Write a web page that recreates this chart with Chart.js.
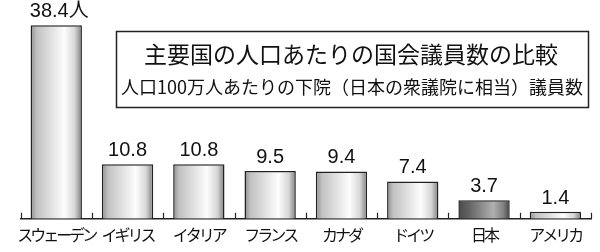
<!DOCTYPE html>
<html>
<head>
<meta charset="utf-8">
<script src="https://cdn.jsdelivr.net/npm/chart.js@4"></script>
<style>
  html, body { margin: 0; padding: 0; background: #fff; }
  #wrap { width: 600px; height: 252px; position: relative; }
</style>
</head>
<body>
<div id="wrap"><canvas id="chart"></canvas></div>
<script>
const COUNTRIES = ['スウェーデン', 'イギリス', 'イタリア', 'フランス', 'カナダ', 'ドイツ', '日本', 'アメリカ'];
const SEATS_PER_MILLION = [38.4, 10.8, 10.8, 9.5, 9.4, 7.4, 3.7, 1.4];
const FIRST_UNIT = '人';
const TITLE_LINES = [
    '主要国の人口あたりの国会議員数の比較',
    '人口100万人あたりの下院（日本の衆議院に相当）議員数',
];
const HIGHLIGHT = '日本';

const CJK = '"Noto Sans CJK JP", sans-serif';
const CAT_PCT = 0.72;

function barGradient(context) {
    const chart = context.chart;
    if (!chart.chartArea) return '#ccc';
    const xs = chart.scales.x;
    const cx = xs.getPixelForValue(context.dataIndex);
    const w = xs.width / COUNTRIES.length * CAT_PCT;
    const g = chart.ctx.createLinearGradient(cx - w / 2, 0, cx + w / 2, 0);
    if (COUNTRIES[context.dataIndex] === HIGHLIGHT) {
        g.addColorStop(0, '#4a4a4a');
        g.addColorStop(0.2, '#626262');
        g.addColorStop(0.68, '#b0b0b0');
        g.addColorStop(0.88, '#808080');
        g.addColorStop(1, '#444');
    } else {
        g.addColorStop(0, '#8e8e8e');
        g.addColorStop(0.12, '#c2c2c2');
        g.addColorStop(0.66, '#fdfdfd');
        g.addColorStop(0.86, '#d6d6d6');
        g.addColorStop(1, '#7e7e7e');
    }
    return g;
}

const decorPlugin = {
    id: 'decor',
    beforeDraw(chart) {
        chart.ctx.letterSpacing = '-3px';
    },
    beforeDatasetsDraw(chart) {
        chart.ctx.letterSpacing = '0px';
    },
    afterDatasetsDraw(chart) {
        const ctx = chart.ctx;
        const xs = chart.scales.x;
        const bottom = chart.chartArea.bottom;
        const step = xs.width / COUNTRIES.length;
        ctx.save();
        // small tick marks pointing up at category boundaries
        ctx.strokeStyle = '#222';
        ctx.lineWidth = 1.2;
        for (let i = 0; i <= COUNTRIES.length; i++) {
            const x = Math.round(xs.left + i * step) + 0.5;
            ctx.beginPath();
            ctx.moveTo(x, bottom);
            ctx.lineTo(x, bottom - 6);
            ctx.stroke();
        }
        // value labels
        const meta = chart.getDatasetMeta(0);
        ctx.fillStyle = '#111';
        ctx.textAlign = 'center';
        ctx.textBaseline = 'alphabetic';
        ctx.font = '20px "Liberation Sans", ' + CJK;
        meta.data.forEach((bar, i) => {
            const txt = SEATS_PER_MILLION[i].toFixed(1) + (i === 0 ? FIRST_UNIT : '');
            ctx.fillText(txt, bar.x + (i === 0 ? 3 : 0), bar.y - 8);
        });
        // title box
        ctx.strokeStyle = '#222';
        ctx.lineWidth = 1.5;
        ctx.strokeRect(116.5, 31.5, 472, 76);
        ctx.textBaseline = 'middle';
        ctx.font = '23px ' + CJK;
        ctx.fillText(TITLE_LINES[0], 351, 54);
        ctx.font = '18px ' + CJK;
        ctx.fillText(TITLE_LINES[1], 352, 87);
        ctx.restore();
    },
};

new Chart(document.getElementById('chart'), {
    type: 'bar',
    data: {
        labels: COUNTRIES,
        datasets: [{
            data: SEATS_PER_MILLION,
            backgroundColor: barGradient,
            borderColor: '#222',
            borderWidth: 1.5,
            categoryPercentage: CAT_PCT,
            barPercentage: 1.0,
        }],
    },
    options: {
        responsive: true,
        maintainAspectRatio: false,
        animation: false,
        layout: { padding: { left: 20, right: 9, top: 0, bottom: 0 } },
        plugins: {
            legend: { display: false },
            tooltip: { enabled: false },
        },
        scales: {
            x: {
                grid: { display: false, drawTicks: false },
                border: { display: true, color: '#222', width: 1.5 },
                ticks: {
                    color: '#111',
                    font: { family: CJK, size: 16 },
                    padding: 7,
                    maxRotation: 0,
                    autoSkip: false,
                },
            },
            y: {
                display: false,
                min: 0,
                max: 43.4,
            },
        },
    },
    plugins: [decorPlugin],
});
</script>
</body>
</html>
